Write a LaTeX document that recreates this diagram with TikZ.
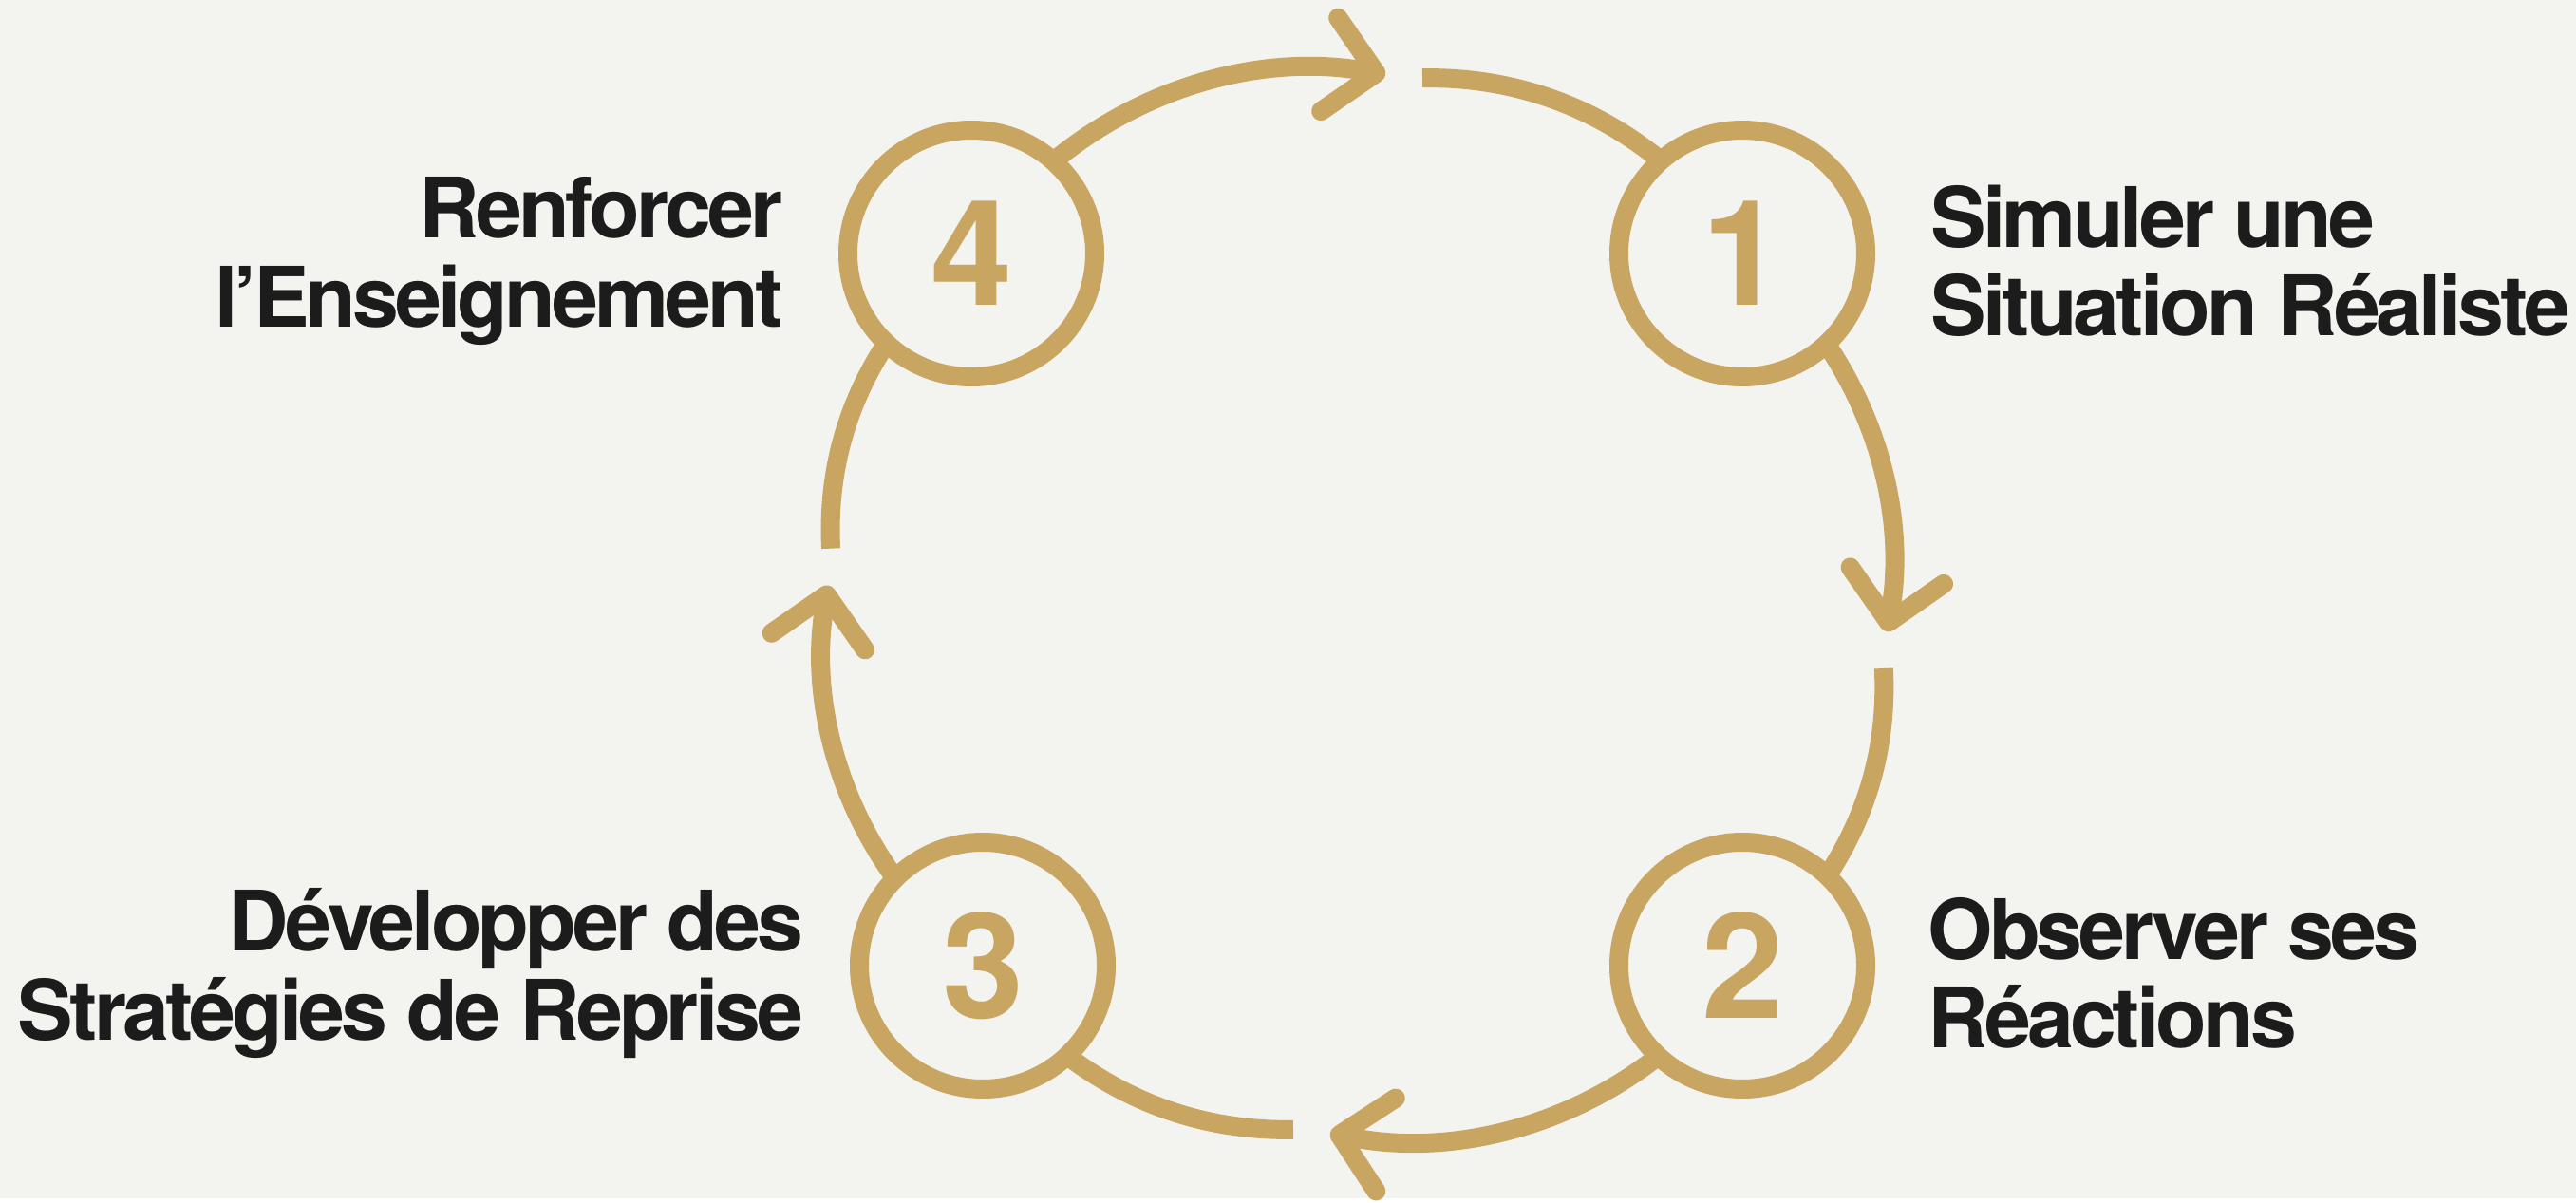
\documentclass[tikz,border=0pt]{standalone}
\usepackage{fontspec}
\setmainfont{TeX Gyre Heros}
\newfontfamily\labelfont{TeX Gyre Heros}[LetterSpace=-4.5]
\usetikzlibrary{arrows.meta,positioning,calc}
\definecolor{gold}{RGB}{201,165,98}
\definecolor{paper}{RGB}{243,243,239}
\definecolor{ink}{RGB}{28,28,28}

\begin{document}
\begin{tikzpicture}[
    stepcircle/.style={circle, draw=gold, line width=2mm, minimum size=2.6cm, inner sep=0pt, outer sep=0pt, text=gold, font=\fontsize{44}{44}\selectfont\bfseries},
    steplabel/.style={inner sep=0pt, text=ink, yshift=-0.08cm, font=\labelfont\fontsize{25}{26.5}\selectfont\bfseries},
    flow/.style={draw=gold, line width=2mm, looseness=0.9, -{Straight Barb[length=5mm, width=10mm, line width=2mm, round]}},
    link/.style={draw=gold, line width=2mm, looseness=0.9}]
    \fill[paper] (0,0) rectangle (27.13,12.62);
    \coordinate (o) at (14.30,6.26);

    \node[stepcircle] (s1) at (18.35,9.95) {1};
    \node[stepcircle] (s2) at (18.35,2.45) {2};
    \node[stepcircle] (s3) at (10.35,2.45) {3};
    \node[stepcircle] (s4) at (10.23,9.95) {4};

    \node[steplabel, align=left, right=0.68cm of s1] (l1) {Simuler une\\Situation Réaliste};
    \node[steplabel, align=left, right=0.65cm of s2] (l2) {Observer ses\\Réactions};
    \node[steplabel, align=right, left=0.58cm of s3] (l3) {Développer des\\Stratégies de Reprise};
    \node[steplabel, align=right, left=0.68cm of s4] (l4) {Renforcer\\l’Enseignement};

    \coordinate (tip1) at ($(o)+(87:5.58)$);
    \coordinate (back1) at ($(o)+(83:5.58)$);
    \coordinate (tip2) at ($(o)+(-3:5.58)$);
    \coordinate (back2) at ($(o)+(-7:5.58)$);
    \coordinate (tip3) at ($(o)+(-93:5.58)$);
    \coordinate (back3) at ($(o)+(-97:5.58)$);
    \coordinate (tip4) at ($(o)+(178:5.58)$);
    \coordinate (back4) at ($(o)+(174:5.58)$);

    \draw[flow] (s4) to[bend left=25] (tip1);
    \draw[link] (back1) to[bend left=20] (s1);
    \draw[flow] (s1) to[bend left=22] (tip2);
    \draw[link] (back2) to[bend left=18] (s2);
    \draw[flow] (s2) to[bend left=25] (tip3);
    \draw[link] (back3) to[bend left=19] (s3);
    \draw[flow] (s3) to[bend left=23] (tip4);
    \draw[link] (back4) to[bend left=18] (s4);
\end{tikzpicture}
\end{document}
